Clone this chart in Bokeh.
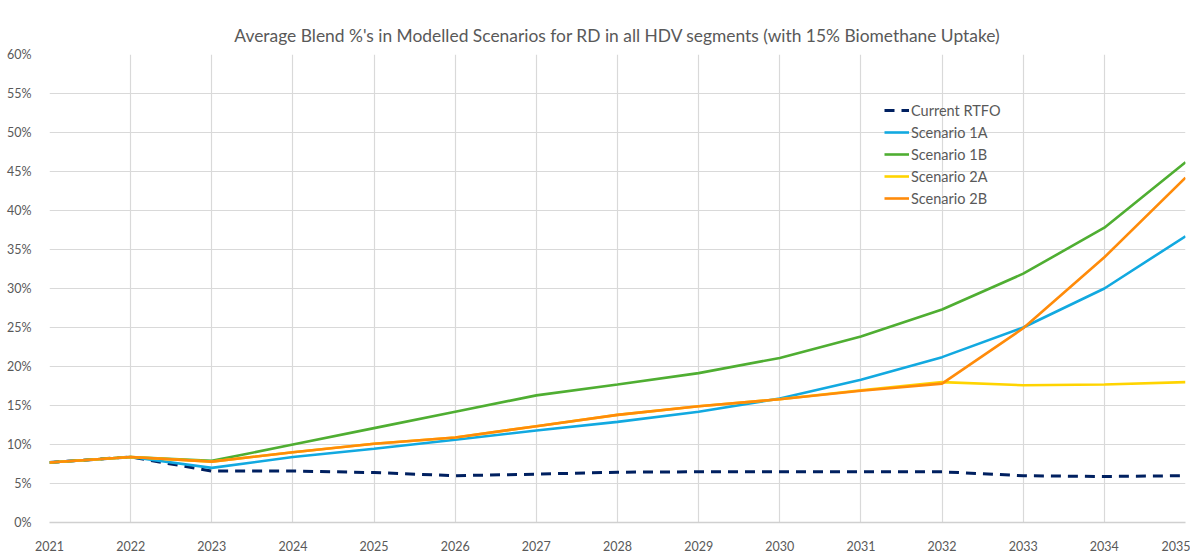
from bokeh.plotting import figure
from bokeh.models import Range1d, FixedTicker, Legend, LegendItem, CustomJSTickFormatter
from bokeh.embed import file_html
from bokeh.resources import INLINE

years = [2021, 2022, 2023, 2024, 2025, 2026, 2027, 2028, 2029, 2030, 2031, 2032, 2033, 2034, 2035]
current_rtfo = [7.7, 8.4, 6.6, 6.6, 6.4, 6.0, 6.2, 6.45, 6.5, 6.5, 6.5, 6.5, 6.0, 5.9, 6.0]
scenario_1a = [7.7, 8.4, 7.0, 8.4, 9.45, 10.6, 11.8, 12.9, 14.2, 15.9, 18.3, 21.2, 25.0, 30.0, 36.7]
scenario_1b = [7.7, 8.4, 7.9, 10.0, 12.1, 14.2, 16.3, 17.7, 19.15, 21.1, 23.85, 27.3, 31.9, 37.8, 46.2]
scenario_2a = [7.7, 8.4, 7.8, 9.0, 10.1, 10.9, 12.35, 13.8, 14.9, 15.8, 16.95, 18.0, 17.6, 17.7, 18.0]
scenario_2b = [7.7, 8.4, 7.8, 9.0, 10.1, 10.9, 12.35, 13.8, 14.9, 15.8, 16.9, 17.8, 24.9, 34.0, 44.2]
y_ticks = [0, 5, 10, 15, 20, 25, 30, 35, 40, 45, 50, 55, 60]

TXT = "#595959"
FONT = "Lato"

p = figure(width=1190, height=553, output_backend="svg", toolbar_location=None,
           x_range=Range1d(2021, 2035), y_range=Range1d(0, 60),
           min_border_left=49, min_border_right=5, min_border_top=54, min_border_bottom=25)
p.outline_line_color = None
p.background_fill_color = "white"
p.border_fill_color = "white"

p.title.text = "Average Blend %'s in Modelled Scenarios for RD in all HDV segments (with 15% Biomethane Uptake)"
p.title.align = "center"
p.title.vertical_align = "top"
p.title.text_font = FONT
p.title.text_font_size = "17.4px"
p.title.text_font_style = "normal"
p.title.text_color = TXT
p.title.standoff = 13

p.xaxis.ticker = FixedTicker(ticks=years)
p.yaxis.ticker = FixedTicker(ticks=y_ticks)
p.yaxis.formatter = CustomJSTickFormatter(code="return tick + '%';")
for ax in (p.xaxis[0], p.yaxis[0]):
    ax.major_label_text_font = FONT
    ax.major_label_text_font_size = "12.5px"
    ax.major_label_text_color = TXT
    ax.major_tick_line_color = None
    ax.minor_tick_line_color = None
    ax.major_label_standoff = 12
p.yaxis.axis_line_color = None
p.xaxis.axis_line_color = "#d0d0d0"
p.xaxis.axis_line_width = 1.5
p.grid.grid_line_color = "#d9d9d9"
p.grid.grid_line_width = 1.2

r0 = p.line(years, current_rtfo, line_color="#002060", line_width=3, line_dash="10 7")
r1 = p.line(years, scenario_1a, line_color="#12A9E0", line_width=2.6)
r2 = p.line(years, scenario_1b, line_color="#4FAE32", line_width=2.6)
r3 = p.line(years, scenario_2a, line_color="#FFD400", line_width=2.6)
r4 = p.line(years, scenario_2b, line_color="#FF8B0A", line_width=2.6)

legend = Legend(items=[
    LegendItem(label="Current RTFO", renderers=[r0]),
    LegendItem(label="Scenario 1A", renderers=[r1]),
    LegendItem(label="Scenario 1B", renderers=[r2]),
    LegendItem(label="Scenario 2A", renderers=[r3]),
    LegendItem(label="Scenario 2B", renderers=[r4]),
], location=(835, 313))
legend.border_line_color = None
legend.background_fill_alpha = 0
legend.padding = 0
legend.margin = 0
legend.spacing = 0
legend.glyph_width = 25
legend.glyph_height = 22
legend.label_height = 22
legend.label_standoff = 2
legend.label_text_font = FONT
legend.label_text_font_size = "14.5px"
legend.label_text_color = TXT
p.add_layout(legend, "center")

open("out.html", "w").write(file_html(p, INLINE))
